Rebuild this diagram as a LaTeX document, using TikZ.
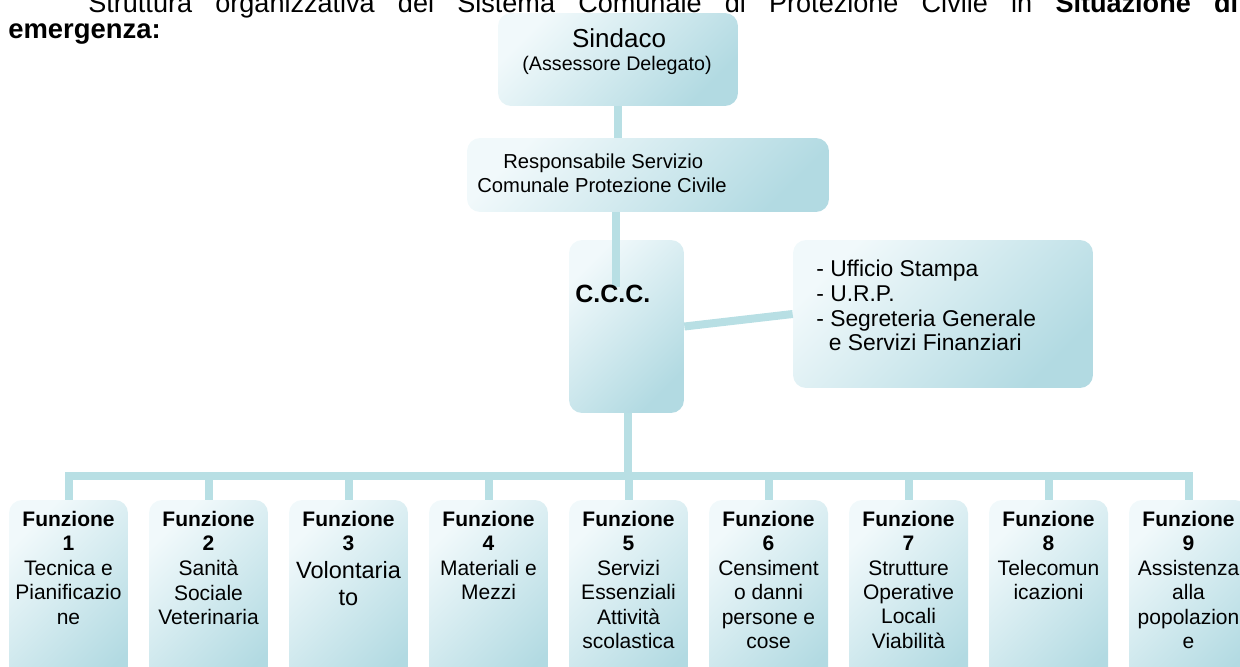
\documentclass[tikz,border=0pt]{standalone}
\usepackage{fontspec}
\setmainfont{Liberation Sans}
\definecolor{conncol}{RGB}{184,223,228}
\definecolor{boxlight}{RGB}{241,249,251}
\definecolor{boxdark}{RGB}{178,218,226}
\begin{document}
\begin{tikzpicture}[x=0.02cm,y=-0.02cm,
  conn/.style={draw=conncol, line width=0.16cm},
  orgbox/.style={rounded corners=0.26cm, top color=boxlight, bottom color=boxdark, shading angle=45, inner sep=0pt, draw=none},
  fbox/.style={orgbox, minimum width=2.38cm, minimum height=4cm},
  fhead/.style={inner sep=0pt, align=center, anchor=north, font=\bfseries\fontsize{11.95}{13.9}\selectfont},
  fbody/.style={inner sep=0pt, align=center, anchor=north, font=\fontsize{11.95}{13.9}\selectfont}]
\clip (0,0) rectangle (1240,666);
% heading (cut off at the top edge, as in the reference)
\node[anchor=base west, inner sep=0pt, font=\fontsize{15.4}{18}\selectfont] (title) at (88,12)
  {\hbox to 23cm{Struttura\hfill organizzativa\hfill del\hfill Sistema\hfill Comunale\hfill di\hfill Protezione\hfill Civile\hfill in\hfill \textbf{Situazione}\hfill \textbf{di}}};
\node[anchor=base west, inner sep=0pt, font=\bfseries\fontsize{15.6}{18}\selectfont] (title2) at (8,38) {emergenza:};
% boxes
\node[orgbox, minimum width=4.8cm, minimum height=1.86cm] (sindaco) at (618,59.5) {};
\node[orgbox, minimum width=7.24cm, minimum height=1.48cm] (resp) at (648,175) {};
\node[orgbox, minimum width=2.3cm, minimum height=3.46cm] (ccc) at (626.5,326.5) {};
\node[orgbox, minimum width=6cm, minimum height=2.96cm] (rbox) at (943,314) {};
\foreach \i in {1,...,9} {
  \node[fbox] (f\i) at ({68.5+140*(\i-1)},600) {};
  \node[fhead] (h\i) at ({68.5+140*(\i-1)},511) {Funzione\\\i};
}
% connectors
\coordinate (bus) at (628,476);
\coordinate (cccin) at (616,287);
\draw[conn] (sindaco.south) -- (sindaco.south |- resp.north);
\draw[conn] (resp.south -| cccin) -- (cccin);
\draw[conn] (ccc.east) -- (rbox.west);
\draw[conn] (ccc.south -| bus) -- (bus);
\draw[conn, line join=miter] (f1.north) -- (f1.north |- bus) -- (f9.north |- bus) -- (f9.north);
\foreach \i in {2,...,8} { \draw[conn] (f\i.north |- bus) -- (f\i.north); }
% texts
\node[anchor=base, inner sep=0pt, font=\fontsize{14.8}{17}\selectfont] (t1) at (619,47) {Sindaco};
\node[anchor=base, inner sep=0pt, font=\fontsize{11.2}{13}\selectfont] (t2) at (617,70) {(Assessore Delegato)};
\node[anchor=north west, inner sep=0pt, align=left, font=\fontsize{11.5}{13.65}\selectfont] (t3) at (477,153.5)
  {\hspace*{0.52cm}Responsabile Servizio\\Comunale Protezione Civile};
\node[anchor=base west, inner sep=0pt, font=\bfseries\fontsize{14.2}{17}\selectfont] (t4) at (575,302) {C.C.C.};
\node[anchor=north west, inner sep=0pt, align=left, font=\fontsize{13}{14}\selectfont] (t5) at (816,260)
  {- Ufficio Stampa\\- U.R.P.\\- Segreteria Generale\\\hspace*{0.25cm}e Servizi Finanziari};
\node[fbody] (b1) at (68.5,560) {Tecnica e\\Pianificazio\\ne};
\node[fbody] (b2) at (208.5,560) {Sanità\\Sociale\\Veterinaria};
\node[fbody, font=\fontsize{13.4}{15.4}\selectfont] (b3) at (348.5,561) {Volontaria\\to};
\node[fbody] (b4) at (488.5,560) {Materiali e\\Mezzi};
\node[fbody] (b5) at (628.5,560) {Servizi\\Essenziali\\Attività\\scolastica};
\node[fbody] (b6) at (768.5,560) {Censiment\\o danni\\persone e\\cose};
\node[fbody] (b7) at (908.5,560) {Strutture\\Operative\\Locali\\Viabilità};
\node[fbody] (b8) at (1048.5,560) {Telecomun\\icazioni};
\node[fbody] (b9) at (1188.5,560) {Assistenza\\alla\\popolazion\\e};
\end{tikzpicture}
\end{document}
